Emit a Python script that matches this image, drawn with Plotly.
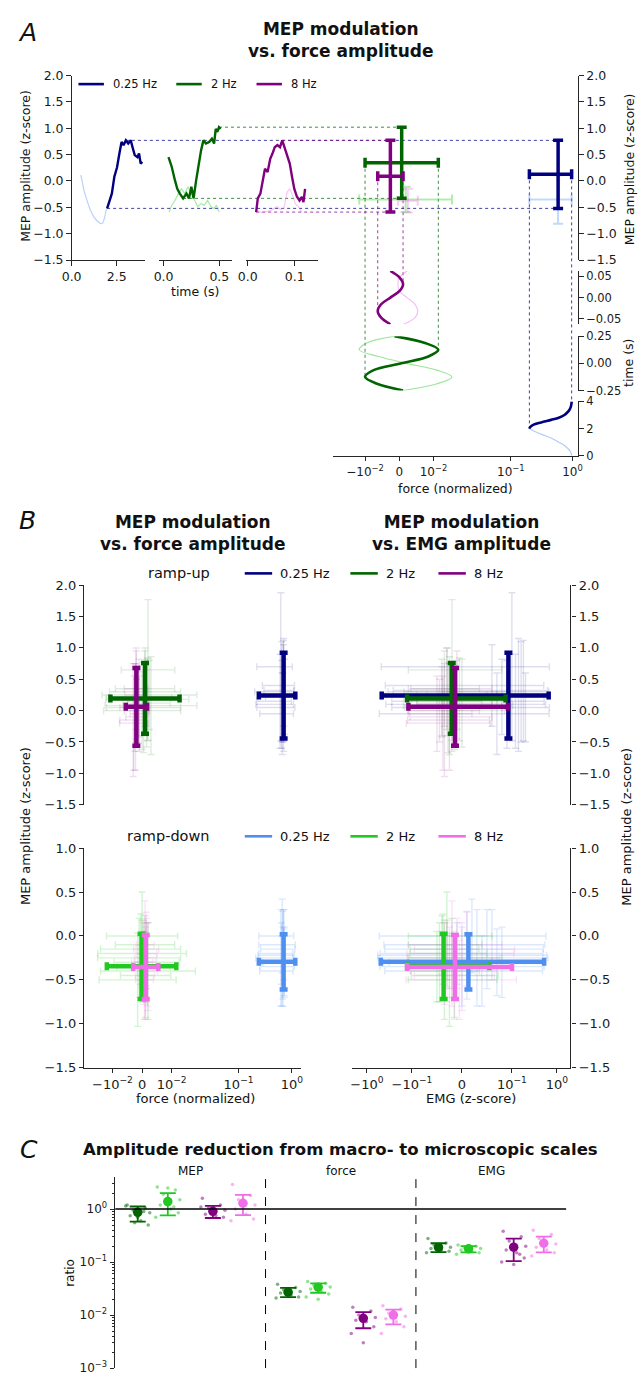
import numpy as np
import plotly.graph_objects as go

# ------------------------------------------------------------------ data
FREQ_LABELS = ["0.25 Hz", "2 Hz", "8 Hz"]

# A: average MEP amplitude (z-score) across the stimulation cycle
MEP_T_025_UP = [1.97, 2.10, 2.23, 2.37, 2.52, 2.65, 2.77, 2.88, 3.01, 3.14, 3.28, 3.38, 3.50, 3.65, 3.74, 3.83, 3.92]
MEP_025_UP = [-0.52, -0.40, -0.24, 0.08, 0.26, 0.52, 0.74, 0.68, 0.77, 0.71, 0.77, 0.64, 0.49, 0.45, 0.52, 0.33, 0.36]
MEP_T_025_DN = [0.51, 0.58, 0.70, 0.82, 0.95, 1.09, 1.23, 1.37, 1.50, 1.64, 1.72, 1.79, 1.86, 1.92, 1.97]
MEP_025_DN = [0.11, 0.00, -0.20, -0.33, -0.47, -0.59, -0.68, -0.74, -0.78, -0.81, -0.80, -0.74, -0.65, -0.55, -0.52]

MEP_T_2_UP = [0.044, 0.073, 0.102, 0.123, 0.146, 0.175, 0.205, 0.228, 0.249, 0.269, 0.292,
              0.316, 0.336, 0.357, 0.380, 0.409, 0.433, 0.453, 0.468, 0.482, 0.497, 0.512]
MEP_2_UP = [0.45, 0.27, 0.01, -0.15, -0.24, -0.33, -0.24, -0.33, -0.11, -0.33, 0.01,
            0.33, 0.58, 0.77, 0.71, 0.74, 0.80, 0.71, 0.99, 0.93, 1.02, 0.99]
MEP_T_2_DN = [0.050, 0.073, 0.102, 0.132, 0.161, 0.190, 0.219, 0.249, 0.278, 0.307, 0.336,
              0.365, 0.395, 0.424, 0.453, 0.474, 0.497]
MEP_2_DN = [-0.59, -0.46, -0.37, -0.24, -0.15, -0.24, -0.11, -0.24, -0.37, -0.49, -0.43,
            -0.46, -0.37, -0.49, -0.52, -0.46, -0.59]

MEP_T_8_UP = [0.0180, 0.0215, 0.0270, 0.0320, 0.0368, 0.0424, 0.0480, 0.0528, 0.0576, 0.0632, 0.0688,
              0.0736, 0.0785, 0.0840, 0.0896, 0.0944, 0.0993, 0.1049, 0.1104, 0.1153, 0.1188, 0.1222]
MEP_8_UP = [-0.59, -0.33, -0.24, -0.02, 0.23, 0.17, 0.42, 0.52, 0.64, 0.68, 0.64,
            0.77, 0.64, 0.52, 0.33, 0.08, -0.15, -0.30, -0.37, -0.30, -0.40, -0.15]
MEP_T_8_DN = [0.0215, 0.0285, 0.0350, 0.0420, 0.0490, 0.0560, 0.0630, 0.0700, 0.0770, 0.0840,
              0.0896, 0.0940, 0.1014, 0.1080, 0.1153]
MEP_8_DN = [-0.56, -0.60, -0.59, -0.57, -0.56, -0.52, -0.49, -0.54, -0.52, -0.21,
            -0.15, -0.24, -0.43, -0.49, -0.59]

# A: normalized force across the stimulation cycle
FRC_T_025_UP = [2.00, 2.10, 2.27, 2.45, 2.64, 2.80, 3.00, 3.20, 3.37, 3.60, 3.85, 4.00]
FRC_025_UP = [0.200, 0.205, 0.230, 0.310, 0.450, 0.600, 0.740, 0.830, 0.890, 0.940, 0.965, 0.970]
FRC_T_025_DN = [0.00, 0.30, 0.73, 1.00, 1.31, 1.50, 1.67, 1.89, 2.00]
FRC_025_DN = [0.970, 0.930, 0.750, 0.600, 0.450, 0.350, 0.280, 0.220, 0.200]
FRC_T_2 = [-0.25, -0.1875, -0.125, -0.0625, 0.0, 0.0625, 0.125, 0.1875, 0.25]
FRC_2_UP = [0.0011, -0.0065, -0.0100, -0.0075, 0.0006, 0.0085, 0.0114, 0.0075, -0.0014]
FRC_2_DN = [0.0011, 0.0110, 0.0154, 0.0110, 0.0020, -0.0060, -0.0117, -0.0095, -0.0014]
FRC_T_8 = [-0.0625, -0.0469, -0.0313, -0.0156, 0.0, 0.0156, 0.0313, 0.0469, 0.0625]
FRC_8_UP = [-0.0026, -0.0053, -0.0063, -0.0053, -0.0026, 0.0001, 0.0011, 0.0001, -0.0026]
FRC_8_DN = [0.0012, 0.0046, 0.0054, 0.0046, 0.0023, 0.0000, -0.0004, 0.0000, 0.0023]

# B: group means (centre / half-range), order 0.25 Hz, 2 Hz, 8 Hz
UP_MEP_MID = [0.240, 0.195, 0.060]
UP_MEP_HALF = [0.685, 0.565, 0.620]
UP_FRC_MID = [0.700, 0.00098, -0.00193]
UP_FRC_HALF = [0.460, 0.01168, 0.00358]
UP_EMG_MID = [0.093, -0.0203, -0.0138]
UP_EMG_HALF = [0.563, 0.1077, 0.1060]
DN_MEP_MID = [-0.295, -0.3455, -0.353]
DN_MEP_HALF = [0.315, 0.3715, 0.364]
DN_FRC_MID = [0.700, -0.00017, 0.00125]
DN_FRC_HALF = [0.460, 0.01173, 0.00425]
DN_EMG_MID = [0.013, -0.0366, -0.0139]
DN_EMG_HALF = [0.506, 0.0914, 0.1141]

# B: individual participants (centre / half-range)
UP_MEP_SUBJ_MID = [[0.70, 0.40, 0.30, 0.22, 0.15, 0.05, -0.05, 0.25, 0.10, 0.32],
                   [0.65, 0.30, 0.25, 0.20, 0.12, 0.08, 0.00, 0.35, 0.18, 0.05],
                   [0.35, 0.15, 0.05, -0.05, -0.15, 0.25, 0.00, -0.10, 0.10, -0.20]]
UP_MEP_SUBJ_HALF = [[1.18, 0.65, 0.80, 0.60, 0.75, 0.55, 0.65, 0.90, 0.70, 0.80],
                    [1.12, 0.70, 0.55, 0.62, 0.70, 0.78, 0.62, 0.60, 0.66, 0.72],
                    [0.65, 0.55, 0.70, 0.60, 0.90, 0.70, 0.50, 0.85, 0.62, 0.75]]
UP_FRC_SUBJ_MID = [[0.62, 0.70, 0.65, 0.72, 0.60, 0.68, 0.66, 0.70, 0.64, 0.69],
                   [0.0020, 0.0010, 0.0025, -0.0010, 0.0015, 0.0030, 0.0000, 0.0010, 0.0018, 0.0005],
                   [-0.0020, -0.0015, -0.0025, -0.0010, -0.0030, -0.0020, -0.0018, -0.0022, -0.0012, -0.0028]]
UP_FRC_SUBJ_HALF = [[0.40, 0.42, 0.45, 0.40, 0.38, 0.46, 0.41, 0.44, 0.43, 0.39],
                    [0.0090, 0.0120, 0.0160, 0.0110, 0.0080, 0.0155, 0.0130, 0.0100, 0.0140, 0.0125],
                    [0.0040, 0.0035, 0.0050, 0.0030, 0.0045, 0.0038, 0.0042, 0.0033, 0.0036, 0.0048]]
UP_EMG_SUBJ_MID = [[0.10, 0.06, 0.16, 0.08, 0.12, 0.20, 0.07, 0.14, 0.09, 0.18],
                   [-0.020, -0.030, -0.010, -0.040, 0.000, -0.025, -0.015, -0.035, -0.005, -0.028],
                   [-0.030, -0.040, -0.020, -0.050, -0.035, -0.010, -0.045, -0.025, -0.015, -0.038]]
UP_EMG_SUBJ_HALF = [[0.58, 0.45, 0.50, 0.55, 0.40, 0.48, 0.60, 0.52, 0.47, 0.44],
                    [0.100, 0.120, 0.080, 0.110, 0.090, 0.130, 0.100, 0.070, 0.095, 0.115],
                    [0.090, 0.080, 0.100, 0.070, 0.090, 0.060, 0.080, 0.085, 0.075, 0.095]]
DN_MEP_SUBJ_MID = [[0.00, -0.15, -0.20, -0.30, -0.25, -0.35, -0.10, -0.40, -0.22, -0.30],
                   [0.00, -0.10, -0.25, -0.40, -0.35, -0.50, -0.30, -0.20, -0.45, -0.15],
                   [-0.10, -0.20, -0.30, -0.35, -0.45, -0.25, -0.50, -0.40, -0.15, -0.30]]
DN_MEP_SUBJ_HALF = [[0.42, 0.45, 0.35, 0.40, 0.55, 0.45, 0.40, 0.40, 0.50, 0.38],
                    [0.50, 0.33, 0.45, 0.55, 0.40, 0.53, 0.45, 0.38, 0.48, 0.40],
                    [0.50, 0.40, 0.45, 0.50, 0.50, 0.35, 0.45, 0.40, 0.42, 0.48]]
DN_FRC_SUBJ_MID = [[0.66, 0.70, 0.64, 0.72, 0.62, 0.68, 0.70, 0.65, 0.67, 0.71],
                   [0.0000, 0.0010, -0.0010, 0.0020, 0.0005, -0.0015, 0.0015, 0.0000, 0.0012, -0.0005],
                   [0.0010, 0.0015, 0.0005, 0.0020, 0.0010, 0.0012, 0.0008, 0.0018, 0.0014, 0.0006]]
DN_FRC_SUBJ_HALF = [[0.42, 0.44, 0.40, 0.45, 0.41, 0.43, 0.46, 0.40, 0.44, 0.42],
                    [0.0120, 0.0100, 0.0140, 0.0160, 0.0090, 0.0130, 0.0110, 0.0150, 0.0085, 0.0135],
                    [0.0030, 0.0035, 0.0040, 0.0028, 0.0032, 0.0038, 0.0030, 0.0034, 0.0042, 0.0029]]
DN_EMG_SUBJ_MID = [[0.02, 0.05, -0.01, 0.08, 0.03, 0.00, 0.06, 0.04, 0.01, 0.07],
                   [-0.030, -0.040, -0.020, -0.035, -0.050, -0.025, -0.045, -0.030, -0.015, -0.038],
                   [-0.020, -0.010, -0.030, 0.000, -0.015, -0.025, -0.005, -0.020, 0.010, -0.035]]
DN_EMG_SUBJ_HALF = [[0.55, 0.45, 0.50, 0.40, 0.60, 0.52, 0.48, 0.44, 0.58, 0.50],
                    [0.090, 0.080, 0.100, 0.070, 0.085, 0.095, 0.075, 0.080, 0.088, 0.072],
                    [0.100, 0.120, 0.090, 0.110, 0.080, 0.100, 0.130, 0.090, 0.105, 0.095]]

# C: macro-to-micro amplitude ratios; series order 2 Hz up, 2 Hz down, 8 Hz up, 8 Hz down
C_GROUPS = ["MEP", "force", "EMG"]
C_MEP_MEAN = [0.87, 1.39, 0.91, 1.29]
C_MEP_LO = [0.58, 0.76, 0.68, 0.77]
C_MEP_HI = [1.12, 2.01, 1.15, 1.85]
C_FRC_MEAN = [0.0271, 0.0336, 0.00867, 0.0100]
C_FRC_LO = [0.0219, 0.0264, 0.00565, 0.0067]
C_FRC_HI = [0.0327, 0.0398, 0.01137, 0.0127]
C_EMG_MEAN = [0.189, 0.178, 0.191, 0.227]
C_EMG_LO = [0.154, 0.152, 0.104, 0.152]
C_EMG_HI = [0.227, 0.200, 0.277, 0.302]
DOTS_MEP = [[1.20, 1.05, 0.95, 0.85, 0.75, 0.60, 0.50, 1.15, 0.70, 0.90, 0.55],
            [2.60, 2.30, 1.90, 1.50, 1.20, 1.00, 0.85, 0.70, 2.50, 1.10],
            [1.60, 1.20, 1.05, 0.95, 0.80, 0.75, 0.70, 1.10, 0.85],
            [2.90, 1.80, 1.50, 1.20, 1.00, 0.80, 0.65, 0.60, 1.30]]
DOTS_FRC = [[0.038, 0.033, 0.030, 0.028, 0.026, 0.024, 0.022, 0.021, 0.031],
            [0.043, 0.040, 0.037, 0.034, 0.031, 0.028, 0.025, 0.022, 0.020],
            [0.014, 0.012, 0.010, 0.009, 0.008, 0.0075, 0.006, 0.0045, 0.003],
            [0.015, 0.013, 0.011, 0.0095, 0.0085, 0.0075, 0.006, 0.0045, 0.012]]
DOTS_EMG = [[0.28, 0.23, 0.21, 0.19, 0.18, 0.17, 0.16, 0.15, 0.20],
            [0.21, 0.20, 0.19, 0.18, 0.17, 0.16, 0.15, 0.14, 0.18],
            [0.38, 0.30, 0.25, 0.20, 0.17, 0.15, 0.12, 0.10, 0.09, 0.14],
            [0.40, 0.33, 0.28, 0.22, 0.19, 0.17, 0.15, 0.13, 0.25]]

# ------------------------------------------------------------------ style
W, H = 641, 1383
FONT = "DejaVu Sans"
INK = "#262626"
TXT = "#111111"
DARK = ["#000080", "#006400", "#800080"]
LIGHT = ["#4f8ff0", "#22c822", "#f06ee8"]
C_COLORS = [DARK[1], LIGHT[1], DARK[2], LIGHT[2]]
C_OFFSETS = [0.15, 0.35, 0.65, 0.85]
C_JITTER = [-0.07, 0.05, -0.03, 0.08, -0.05, 0.02, 0.07, -0.08, 0.0, 0.04, -0.02]

FRC_THR = 0.02   # linear threshold of the symmetric-log force axis
EMG_THR = 0.1    # linear threshold of the symmetric-log EMG axis
LIN_SCALE = 1.0 / (1.0 - 1.0 / 10.0)


def symlog(v, thr):
    v = np.asarray(v, dtype=float)
    a = np.abs(v)
    return np.where(a <= thr, v / thr * LIN_SCALE,
                    np.sign(v) * (LIN_SCALE + np.log10(np.maximum(a, 1e-12) / thr)))


def rgba(hexcol, a):
    h = hexcol.lstrip("#")
    r, g, b = int(h[0:2], 16), int(h[2:4], 16), int(h[4:6], 16)
    return f"rgba({r},{g},{b},{a})"


def xdom(left, right):
    return [left / W, right / W]


def ydom(top, bottom):
    return [1 - bottom / H, 1 - top / H]


def paper_x(dom, rng, v):
    left, right = dom
    return (left + (v - rng[0]) / (rng[1] - rng[0]) * (right - left)) / W


def paper_y(dom, rng, v):
    top, bottom = dom
    return 1 - (bottom - (v - rng[0]) / (rng[1] - rng[0]) * (bottom - top)) / H


# axis placement (pixels) and ranges
DOM_A_T = [(63, 138), (152, 227), (241, 315)]
RNG_A_T = [[0, 4.07], [-0.044, 0.614], [-0.0042, 0.15]]
DOM_A_MEP = (68.3, 255)
RNG_MEP_TALL = [-1.5, 2.0]
RNG_MEP_SHORT = [-1.5, 1.0]
DOM_A_F = (330, 581)
RNG_A_F = [-1.079, 2.905]
DOM_A_TIME = [(398, 453), (332, 387), (266, 320)]
RNG_A_TIME = [[0, 4], [-0.25, 0.25], [-0.0625, 0.0625]]
DOM_B_F = (76, 297)
RNG_B_F = [-1.083, 2.972]
DOM_B_E = (350, 573)
RNG_B_E = [-2.435, 2.413]
DOM_B_UP = (584, 806)
DOM_B_DN = (850, 1072)
DOM_C_X = (107.5, 568.75)
DOM_C_Y = (1183, 1376)

# legend keys: (line start, line end, label start) in pixels, and row heights
LEG_A = [(70, 96, 103), (170, 196, 203), (252, 278, 285)]
LEG_B = [(240, 268, 274), (348, 376, 382), (438, 466, 472)]
LEG_A_ROW, LEG_UP_ROW, LEG_DN_ROW = 77, 572, 838

A_TX = ["x", "x2", "x3"]
A_TY = ["y3", "y4", "y5"]

fig = go.Figure()


def cross(xc, xlo, xhi, yc, ylo, yhi, xa, ya, color, thick, cap):
    xc, xlo, xhi = np.atleast_1d(xc), np.atleast_1d(xlo), np.atleast_1d(xhi)
    yc, ylo, yhi = np.atleast_1d(yc), np.atleast_1d(ylo), np.atleast_1d(yhi)
    return go.Scatter(
        x=xc.tolist(), y=yc.tolist(), xaxis=xa, yaxis=ya, mode="markers",
        marker=dict(size=2, color="rgba(0,0,0,0)"),
        error_x=dict(type="data", symmetric=False, array=(xhi - xc).tolist(),
                     arrayminus=(xc - xlo).tolist(), color=color, thickness=thick, width=cap),
        error_y=dict(type="data", symmetric=False, array=(yhi - yc).tolist(),
                     arrayminus=(yc - ylo).tolist(), color=color, thickness=thick, width=cap),
        showlegend=False, hoverinfo="skip")


# ------------------------------------------------------------------ panel A
mep_up = [(MEP_T_025_UP, MEP_025_UP), (MEP_T_2_UP, MEP_2_UP), (MEP_T_8_UP, MEP_8_UP)]
mep_dn = [(MEP_T_025_DN, MEP_025_DN), (MEP_T_2_DN, MEP_2_DN), (MEP_T_8_DN, MEP_8_DN)]
frc_up = [(FRC_T_025_UP, FRC_025_UP), (FRC_T_2, FRC_2_UP), (FRC_T_8, FRC_8_UP)]
frc_dn = [(FRC_T_025_DN, FRC_025_DN), (FRC_T_2, FRC_2_DN), (FRC_T_8, FRC_8_DN)]

shapes = []
for i in range(3):
    t_dn, m_dn = mep_dn[i]
    t_up, m_up = mep_up[i]
    fig.add_trace(go.Scatter(x=t_dn, y=m_dn, xaxis=A_TX[i], yaxis="y", mode="lines",
                             line=dict(color=rgba(LIGHT[i], 0.4), width=1.2,
                                       shape="spline" if i == 0 else "linear"),
                             showlegend=False, hoverinfo="skip"))
    fig.add_trace(go.Scatter(x=t_up, y=m_up, xaxis=A_TX[i], yaxis="y", mode="lines",
                             line=dict(color=DARK[i], width=2.4), name=FREQ_LABELS[i],
                             showlegend=False, hoverinfo="skip"))

    ft_dn, f_dn = frc_dn[i]
    ft_up, f_up = frc_up[i]
    fig.add_trace(go.Scatter(x=symlog(f_dn, FRC_THR).tolist(), y=ft_dn, xaxis="x4", yaxis=A_TY[i],
                             mode="lines", line=dict(color=rgba(LIGHT[i], 0.45), width=1.2, shape="spline"),
                             showlegend=False, hoverinfo="skip"))
    fig.add_trace(go.Scatter(x=symlog(f_up, FRC_THR).tolist(), y=ft_up, xaxis="x4", yaxis=A_TY[i],
                             mode="lines", line=dict(color=DARK[i], width=2.6, shape="spline"),
                             showlegend=False, hoverinfo="skip"))

# crosses summarising the MEP range against the force range
for i in range(3):
    m_dn = np.array(mep_dn[i][1]); f_dn = np.array(frc_dn[i][1])
    ylo, yhi = m_dn.min(), m_dn.max()
    flo, fhi = f_dn.min(), f_dn.max()
    fig.add_trace(cross(symlog((flo + fhi) / 2, FRC_THR), symlog(flo, FRC_THR), symlog(fhi, FRC_THR),
                        (ylo + yhi) / 2, ylo, yhi, "x4", "y2", rgba(LIGHT[i], 0.35), 2, 5))
for i in range(3):
    t_up = np.array(mep_up[i][0]); m_up = np.array(mep_up[i][1])
    ft_up = np.array(frc_up[i][0]); f_up = np.array(frc_up[i][1])
    ylo, yhi = m_up.min(), m_up.max()
    flo, fhi = f_up.min(), f_up.max()
    yc = (ylo + yhi) / 2
    xc = float(symlog((flo + fhi) / 2, FRC_THR))
    xlo, xhi = float(symlog(flo, FRC_THR)), float(symlog(fhi, FRC_THR))
    fig.add_trace(cross(xc, xlo, xhi, yc, ylo, yhi, "x4", "y2", DARK[i], 3.5, 5))

    dot = dict(color=rgba(DARK[i], 0.75), width=1, dash="dot")
    # horizontal guides from the extremes of the MEP trace to the cross
    for k in (int(np.argmax(m_up)), int(np.argmin(m_up))):
        shapes.append(dict(type="line", xref="paper", yref="y", layer="below",
                           x0=paper_x(DOM_A_T[i], RNG_A_T[i], t_up[k]),
                           x1=paper_x(DOM_A_F, RNG_A_F, xc),
                           y0=m_up[k], y1=m_up[k], line=dot))
    # vertical guides from the cross down to the extremes of the force trace
    for k, xv in ((int(np.argmin(f_up)), xlo), (int(np.argmax(f_up)), xhi)):
        shapes.append(dict(type="line", xref="x4", yref="paper", layer="below",
                           x0=xv, x1=xv,
                           y0=paper_y(DOM_A_MEP, RNG_MEP_TALL, yc),
                           y1=paper_y(DOM_A_TIME[i], RNG_A_TIME[i], ft_up[k]),
                           line=dot))

# ------------------------------------------------------------------ panel B
ramps = [
    dict(ya_f="y6", ya_e="y8", cols=DARK, alpha=0.13,
         mep=(UP_MEP_MID, UP_MEP_HALF), frc=(UP_FRC_MID, UP_FRC_HALF), emg=(UP_EMG_MID, UP_EMG_HALF),
         s_mep=(UP_MEP_SUBJ_MID, UP_MEP_SUBJ_HALF), s_frc=(UP_FRC_SUBJ_MID, UP_FRC_SUBJ_HALF),
         s_emg=(UP_EMG_SUBJ_MID, UP_EMG_SUBJ_HALF)),
    dict(ya_f="y7", ya_e="y9", cols=LIGHT, alpha=0.2,
         mep=(DN_MEP_MID, DN_MEP_HALF), frc=(DN_FRC_MID, DN_FRC_HALF), emg=(DN_EMG_MID, DN_EMG_HALF),
         s_mep=(DN_MEP_SUBJ_MID, DN_MEP_SUBJ_HALF), s_frc=(DN_FRC_SUBJ_MID, DN_FRC_SUBJ_HALF),
         s_emg=(DN_EMG_SUBJ_MID, DN_EMG_SUBJ_HALF)),
]

for r in ramps:
    for i in range(3):
        ym = np.array(r["s_mep"][0][i]); yh = np.array(r["s_mep"][1][i])
        for key, thr, xa, ya in (("s_frc", FRC_THR, "x5", r["ya_f"]), ("s_emg", EMG_THR, "x6", r["ya_e"])):
            xm = np.array(r[key][0][i]); xh = np.array(r[key][1][i])
            fig.add_trace(cross(symlog(xm, thr), symlog(xm - xh, thr), symlog(xm + xh, thr),
                                ym, ym - yh, ym + yh, xa, ya, rgba(r["cols"][i], r["alpha"]), 1.4, 3.5))
    for i in range(3):
        ym, yh = r["mep"][0][i], r["mep"][1][i]
        for key, thr, xa, ya in (("frc", FRC_THR, "x5", r["ya_f"]), ("emg", EMG_THR, "x6", r["ya_e"])):
            xm, xh = r[key][0][i], r[key][1][i]
            fig.add_trace(cross(symlog(xm, thr), symlog(xm - xh, thr), symlog(xm + xh, thr),
                                ym, ym - yh, ym + yh, xa, ya, r["cols"][i], 4.5, 4))

# ------------------------------------------------------------------ panel C
c_sets = [(C_MEP_MEAN, C_MEP_LO, C_MEP_HI, DOTS_MEP),
          (C_FRC_MEAN, C_FRC_LO, C_FRC_HI, DOTS_FRC),
          (C_EMG_MEAN, C_EMG_LO, C_EMG_HI, DOTS_EMG)]
for g, (mean, lo, hi, dots) in enumerate(c_sets):
    for s in range(4):
        vals = dots[s]
        xs = [g + C_OFFSETS[s] + C_JITTER[j] for j in range(len(vals))]
        fig.add_trace(go.Scatter(x=xs, y=vals, xaxis="x7", yaxis="y10", mode="markers",
                                 marker=dict(size=3.5, color=rgba(C_COLORS[s], 0.5)),
                                 showlegend=False, hoverinfo="skip"))
        fig.add_trace(go.Scatter(x=[g + C_OFFSETS[s]], y=[mean[s]], xaxis="x7", yaxis="y10",
                                 mode="markers", marker=dict(size=9.5, color=C_COLORS[s]),
                                 error_y=dict(type="data", symmetric=False, array=[hi[s] - mean[s]],
                                              arrayminus=[mean[s] - lo[s]], color=C_COLORS[s],
                                              thickness=1.8, width=8),
                                 showlegend=False, hoverinfo="skip"))

shapes.append(dict(type="line", xref="x7", yref="y10", x0=0, x1=3, y0=1, y1=1,
                   line=dict(color="black", width=1.5)))
for xv in (1, 2):
    shapes.append(dict(type="line", xref="x7", yref="y10 domain", x0=xv, x1=xv, y0=0, y1=1,
                       line=dict(color="black", width=1, dash="dash")))

# ------------------------------------------------------------------ axes
TICK_FONT = dict(family=FONT, size=12.5, color="#1a1a1a")
TIME_FONT = dict(family=FONT, size=11.5, color="#1a1a1a")
B_FONT = dict(family=FONT, size=13, color="#1a1a1a")


def axis(**kw):
    base = dict(showline=True, linecolor=INK, linewidth=1.1, ticks="outside", ticklen=4.5,
                tickwidth=1.1, tickcolor=INK, showgrid=False, zeroline=False,
                tickfont=TICK_FONT, fixedrange=True)
    base.update(kw)
    return base


MEP_TICKS_TALL = [-1.5, -1.0, -0.5, 0.0, 0.5, 1.0, 1.5, 2.0]
MEP_TICKS_SHORT = [-1.5, -1.0, -0.5, 0.0, 0.5, 1.0]
F_TICKS = [-0.01, 0.0, 0.01, 0.1, 1.0]
F_TEXT = ["−10<sup>−2</sup>", "0", "10<sup>−2</sup>", "10<sup>−1</sup>", "10<sup>0</sup>"]
E_TICKS = [-1.0, -0.1, 0.0, 0.1, 1.0]
E_TEXT = ["−10<sup>0</sup>", "−10<sup>−1</sup>", "0", "10<sup>−1</sup>", "10<sup>0</sup>"]
C_TICKS = [1e-3, 1e-2, 1e-1, 1.0]
C_TEXT = ["10<sup>−3</sup>", "10<sup>−2</sup>", "10<sup>−1</sup>", "10<sup>0</sup>"]
C_MINOR = [m * 10.0 ** e for e in (-3, -2, -1, 0) for m in range(2, 10) if m * 10.0 ** e < 4]

layout_axes = dict(
    xaxis=axis(domain=xdom(*DOM_A_T[0]), range=RNG_A_T[0], anchor="y", tickvals=[0, 2.5], tickformat=".1f"),
    xaxis2=axis(domain=xdom(*DOM_A_T[1]), range=RNG_A_T[1], anchor="y", tickvals=[0, 0.5], tickformat=".1f"),
    xaxis3=axis(domain=xdom(*DOM_A_T[2]), range=RNG_A_T[2], anchor="y", tickvals=[0, 0.1], tickformat=".1f"),
    yaxis=axis(domain=ydom(*DOM_A_MEP), range=RNG_MEP_TALL, anchor="x", tickvals=MEP_TICKS_TALL, tickformat=".1f"),
    xaxis4=axis(domain=xdom(*DOM_A_F), range=RNG_A_F, anchor="y3", tickfont=dict(TIME_FONT, size=12),
                tickvals=symlog(F_TICKS, FRC_THR).tolist(), ticktext=F_TEXT),
    yaxis2=axis(domain=ydom(*DOM_A_MEP), range=RNG_MEP_TALL, anchor="x4", side="right",
                tickvals=MEP_TICKS_TALL, tickformat=".1f"),
    yaxis3=axis(domain=ydom(*DOM_A_TIME[0]), range=RNG_A_TIME[0], anchor="x4", side="right",
                tickvals=[0, 2, 4], tickformat="d", tickfont=TIME_FONT),
    yaxis4=axis(domain=ydom(*DOM_A_TIME[1]), range=RNG_A_TIME[1], anchor="x4", side="right",
                tickvals=[-0.25, 0, 0.25], tickformat=".2f", tickfont=TIME_FONT),
    yaxis5=axis(domain=ydom(*DOM_A_TIME[2]), range=RNG_A_TIME[2], anchor="x4", side="right",
                tickvals=[-0.05, 0, 0.05], tickformat=".2f", tickfont=TIME_FONT),
    xaxis5=axis(domain=xdom(*DOM_B_F), range=RNG_B_F, anchor="y7", tickfont=B_FONT,
                tickvals=symlog(F_TICKS, FRC_THR).tolist(), ticktext=F_TEXT),
    yaxis6=axis(domain=ydom(*DOM_B_UP), range=RNG_MEP_TALL, anchor="x5", tickfont=B_FONT,
                tickvals=MEP_TICKS_TALL, tickformat=".1f"),
    yaxis7=axis(domain=ydom(*DOM_B_DN), range=RNG_MEP_SHORT, anchor="x5", tickfont=B_FONT,
                tickvals=MEP_TICKS_SHORT, tickformat=".1f"),
    xaxis6=axis(domain=xdom(*DOM_B_E), range=RNG_B_E, anchor="y9", tickfont=B_FONT,
                tickvals=symlog(E_TICKS, EMG_THR).tolist(), ticktext=E_TEXT),
    yaxis8=axis(domain=ydom(*DOM_B_UP), range=RNG_MEP_TALL, anchor="x6", side="right", tickfont=B_FONT,
                tickvals=MEP_TICKS_TALL, tickformat=".1f"),
    yaxis9=axis(domain=ydom(*DOM_B_DN), range=RNG_MEP_SHORT, anchor="x6", side="right", tickfont=B_FONT,
                tickvals=MEP_TICKS_SHORT, tickformat=".1f"),
    xaxis7=dict(domain=xdom(*DOM_C_X), range=[0, 3], anchor="y10", visible=False, fixedrange=True),
    yaxis10=axis(domain=ydom(*DOM_C_Y), type="log", range=[-3, 0.6], anchor="x7",
                 tickvals=C_TICKS, ticktext=C_TEXT, tickfont=dict(family=FONT, size=12, color="#1a1a1a"),
                 minor=dict(tickmode="array", tickvals=C_MINOR, ticks="outside", ticklen=2.5,
                            tickwidth=0.8, tickcolor=INK)),
)


# ------------------------------------------------------------------ text and legends
def txt(text, x, y, size=12.5, angle=0, xanchor="center"):
    return dict(text=text, x=x / W, y=1 - y / H, xref="paper", yref="paper", showarrow=False,
                textangle=angle, xanchor=xanchor, yanchor="middle",
                font=dict(family=FONT, size=size, color=TXT))


annotations = [
    txt("<i>A</i>", 18, 25, size=25),
    txt("<b>MEP modulation</b><br><b>vs. force amplitude</b>", 338, 32, size=17),
    txt("MEP amplitude (z-score)", 15, 160, angle=-90),
    txt("MEP amplitude (z-score)", 633, 163, angle=-90),
    txt("time (s)", 633, 359, angle=-90),
    txt("time (s)", 189, 287),
    txt("force (normalized)", 455, 486),
    txt("<i>B</i>", 18, 518, size=25),
    txt("<b>MEP modulation</b><br><b>vs. force amplitude</b>", 187, 531, size=17),
    txt("<b>MEP modulation</b><br><b>vs. EMG amplitude</b>", 462, 531, size=17),
    txt("MEP amplitude (z-score)", 16, 828, size=13, angle=-90),
    txt("MEP amplitude (z-score)", 630, 828, size=13, angle=-90),
    txt("force (normalized)", 190, 1103, size=13),
    txt("EMG (z-score)", 471, 1103, size=13),
    txt("<i>C</i>", 19, 1155, size=25),
    txt("<b>Amplitude reduction from macro- to microscopic scales</b>", 338, 1155, size=16.5),
    txt("ratio", 62, 1280, size=12, angle=-90),
    txt("ramp-up", 207, LEG_UP_ROW, size=14.5, xanchor="right"),
    txt("ramp-down", 207, LEG_DN_ROW, size=14.5, xanchor="right"),
]
for g, name in enumerate(C_GROUPS):
    annotations.append(dict(text=name, x=g + 0.5, y=1 - 1177 / H, xref="x7", yref="paper",
                            showarrow=False, xanchor="center", yanchor="middle",
                            font=dict(family=FONT, size=12, color=TXT)))

# legend keys drawn as short line samples with their labels
for keys, row, cols, size in ((LEG_A, LEG_A_ROW, DARK, 11.5),
                              (LEG_B, LEG_UP_ROW, DARK, 13),
                              (LEG_B, LEG_DN_ROW, LIGHT, 13)):
    for i, (x0, x1, xt) in enumerate(keys):
        shapes.append(dict(type="line", xref="paper", yref="paper",
                           x0=x0 / W, x1=x1 / W, y0=1 - row / H, y1=1 - row / H,
                           line=dict(color=cols[i], width=2.6)))
        annotations.append(txt(FREQ_LABELS[i], xt, row, size=size, xanchor="left"))

fig.update_layout(
    width=W, height=H, autosize=False,
    margin=dict(l=0, r=0, t=0, b=0),
    paper_bgcolor="white", plot_bgcolor="rgba(0,0,0,0)",
    font=dict(family=FONT, color=TXT),
    hovermode=False, showlegend=False,
    shapes=shapes,
    annotations=annotations,
    **layout_axes,
)

fig.write_html("out.html")
